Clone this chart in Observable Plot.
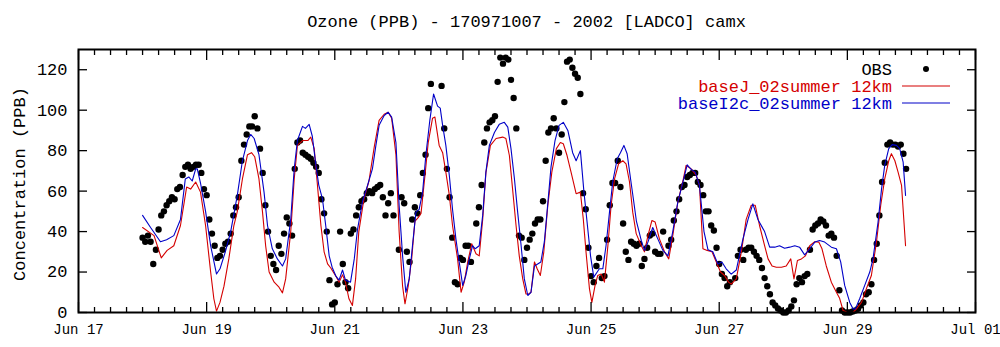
<!DOCTYPE html>
<html><head><meta charset="utf-8">
<script src="https://cdn.jsdelivr.net/npm/d3@7"></script>
<script src="https://cdn.jsdelivr.net/npm/@observablehq/plot@0.6"></script>
<style>
html,body{margin:0;padding:0;background:#fff;}
#wrap{position:relative;width:1000px;height:347px;overflow:hidden;font-family:"Liberation Mono","Courier New",monospace;}
#title{position:absolute;left:78px;top:13px;width:897px;text-align:center;font-size:17px;line-height:20px;color:#000;white-space:pre;}
#chart{position:absolute;left:0;top:40px;}
</style></head><body>
<div id="wrap"><div id="title">Ozone (PPB) - 170971007 - 2002 [LADCO] camx</div><div id="chart"></div></div>
<script>
// ---- data (hourly, first value = Jun 18 2002 00:00) ----
const seriesNames = ["OBS", "baseJ_02summer 12km", "baseI2c_02summer 12km"];
const seriesColors = ["#000000", "#d40000", "#0000c8"];
const obsValues = [
37,35,38,35,24,31,41,48,50,53,55,57,56,61,62,68,72,73,71,72,73,73,69,61,
58,46,39,33,27,28,31,34,35,39,48,52,57,75,83,88,92,92,97,91,81,69,53,40,
28,24,21,33,29,39,47,44,38,71,84,85,79,78,77,76,74,72,69,56,49,40,16,4,
5,14,40,24,15,12,39,41,48,52,55,56,59,60,59,61,62,63,57,48,54,59,48,null,
31,57,54,30,25,46,52,49,58,69,78,101,113,null,null,null,112,91,71,57,37,15,14,27,
26,33,33,25,null,44,52,63,84,91,94,95,97,114,126,123,126,125,115,106,91,38,37,26,
32,36,39,44,46,46,55,75,89,91,96,91,79,88,104,124,125,121,118,116,108,59,51,32,
18,15,23,27,17,18,36,53,64,64,75,62,44,30,26,35,34,33,34,23,26.5,32,38,39,
30,29,29,40,null,33,36,45.5,50,56,62,63,67,68,69,69,64.5,63,58,50,50,43,40.5,32,
24,19,17,13,15,null,17,28,31,26,31,32,32,30,28,26,22,17,13,9,5,3.5,2,1,
0,0,1,3,6,14,17,15,18,19,31,41,43,44,46,45,43,38,39,37,28,11,1,0,
0,0,0.5,1,1.8,3.5,5,9,10,14,26,34,48,64.5,74,83,84,83,83,82,83,78.5,71
];
const baseJHours = [0,4.3,7,9.2,11.7,14.2,16.5,18,19.9,21.7,23.6,25.5,26.7,27.7,29,30.5,32.3,34.2,35.5,37.4,39.3,40.8,42,43.6,44.9,46.1,47.4,49.3,51.1,52.4,53.6,55.5,56.8,58,59.9,61.9,63,64.3,65.5,66.8,68,69.3,70.5,72.4,73.6,74.9,76,77.3,78.6,79.8,81,82.9,84.8,86.8,88.6,90.5,92,93.3,94.9,96.1,97.4,98.3,99.5,100.8,102,103.3,104.3,105.8,107,108.6,109.5,111.1,112.4,113.6,114.9,116.1,118,119.3,120.5,121.8,123.3,124.9,126.1,127.4,128.6,130.3,132.4,134.9,136.1,137.4,138.6,139.9,141.1,142.4,143.6,144.5,145.5,146.8,147.8,149,150.3,151.8,153.3,155,156.5,157.6,159,160.5,162.4,164,165.1,166.1,167.4,168.3,169.5,170.5,171.8,173,174.3,175.5,176.8,178.3,179.9,181.1,182.4,183.6,184.9,186.8,188,189.3,190.8,192,193.6,195.5,197.1,198.6,200.5,202.4,203.6,205.5,207.4,208.6,209.9,211.5,213.3,214.9,216.5,218,219.5,220.5,222.4,224.3,226.1,228,229.5,231.1,233,234.3,235.8,237.4,239.3,241.1,242.8,244,245.3,246.8,248.3,249.9,251.8,253.3,254.5,256.1,258,259.9,261.1,262.4,264.3,266.1,267.4,269.3,271.1,273,274.9,276.5,278,279.5,280.5,281.8,283,284.3,285.8];
const baseJValues = [42,38,27,30.7,33,43,62,61,64.5,59.5,43,20,6.8,0.7,5,13,26.5,43,50,66,78,79,77,66,50,33,20,15,12.5,9.7,16.6,40,66,82.6,85,85,86.7,81,63,43,30,24,22,18,15,18.6,15,6.8,3.5,16.6,40,56,65,82,95,98,99,96,78,40,13,4.3,13,26.5,45,47,49,68,84,96,96.6,82.6,79,69.4,58,43,26.5,10,15,25,34,29,28,46,69,82.6,86,86.7,86,77.6,61,43,28,16.6,9.2,9,10,25,21.6,18.3,30,53,69.4,81,84,83.4,77.6,69.4,58.7,59.5,46,30,11.7,5,13.4,18.3,19,15,33,53,66,73.5,75,73.5,64.5,49.6,39,33,30,38,45.5,44.7,36.4,30,26.5,38,54.6,65,72.7,71,67.8,62.8,31.5,30.7,30,25,20,18.3,15,14,16.6,30,46,53,53,43,33,26.5,23,22.4,22.4,23,26.5,16.6,25.7,26.5,28,33,35,34.8,31.5,23,15,10,7,1,0,0,1.8,5,11.7,18.3,34.8,53,66,75,78.5,75,69.4,62.8,33];
const baseI2cHours = [0,3,6.7,9,11.7,14.2,16,17.3,18.6,19.9,20.5,21.7,23.6,25.5,27.7,29,31,33,35.5,37.4,39.3,40.5,41.8,43.6,45.5,46.8,48.6,50.5,52.4,53.6,55.5,56.8,58,59.9,61,62.4,63.6,64.9,66,67.4,68.6,69.9,71,72.4,73.6,74.9,76,77.9,79.3,80.5,82.4,84.3,86.1,87.4,88.6,90.5,92,93.3,94.9,96.1,97.4,98.6,99.9,101.1,102.4,103.6,104.9,106.1,107.6,109,110.5,111.5,112.4,113.6,114.9,116.1,117.4,118.6,119.9,121.1,122.4,123.6,124.6,126.1,127.4,128.6,129.9,131.8,133.6,135.5,136.8,138,139.3,140.5,141.8,143,144.3,145.5,146.8,148,149.2,150.5,151.8,153,154.5,156,157.6,159.3,161.1,162.4,164,165.3,166.5,167.8,169,170.3,171.1,172.4,173.6,174.9,176.1,177.8,179,180.3,181.5,182.8,184,185,186.8,188,189.3,191.1,193,194.9,196.8,198.6,200.5,202.4,204,205.5,207,208.6,210.3,211.8,213.6,215.5,217,218.6,220.5,222.4,224.9,226.8,228.6,230.5,233,234.9,236.8,238.6,240.5,242.4,244.3,246.1,248,249.9,251.8,253.6,255.5,258,259.9,261.5,263,264.9,266.1,267,268.6,270.5,272.4,273.6,275.5,276.8,278,279.5,280.8,282.4,283.6,284.9,285.8];
const baseI2cValues = [48,42,35,36,38,46,66,67,65,71,71,64,50,33,19,21.6,30,40,58,75,85,88,86,78,59.5,43,31.5,26.5,23,26.5,46,71,85,92,91,93,87,73,63,56,43,28,22.4,18,16,21,16,15,26.5,41,55,63,71,82.6,92.5,97.4,99,96.6,84,53,28,10,16.6,33,49.6,51,59.5,77.6,95,108,102,101,92.5,82.6,67.8,51,36,25,13.4,18.3,26.5,33,31.5,33,48,69.4,82.6,89,93,94,91.6,81,66,49.6,33,16.6,8.4,10,23,24,25,35,54,72,85,92.5,94,90,79,75,80,60,44.7,28,17.5,20,21.6,21.6,33,49.6,64.5,76,79,82.6,78.5,66,54.6,45,35.6,30.7,34.8,42,36.4,30.7,28,40,54.6,64.5,73,70.7,69.4,62.8,40,31,30,24,25,21.6,19,21,36.4,46,53.7,46,40,32.3,32.3,33,31.8,32.3,33,32.3,28.5,31.5,34.8,35.6,34.8,32.3,31.5,25,13.4,5,1.8,1.8,6.8,13.4,20,26.5,44.7,61,72.7,81,83,82.6,81,74.3,57.9];
const yTicks = [0,20,40,60,80,100,120];
const xMajorTicks = ["2002-06-17","2002-06-19","2002-06-21","2002-06-23","2002-06-25","2002-06-27","2002-06-29","2002-07-01"];

// ---- build tables ----
const start = Date.UTC(2002, 5, 18, 0);
const toDate = h => new Date(start + h * 3600000);
const obsData = obsValues.map((v, i) => ({t: toDate(i), v})).filter(d => d.v !== null);
const baseJ = baseJHours.map((h, i) => ({t: toDate(h), v: baseJValues[i]}));
const baseI2c = baseI2cHours.map((h, i) => ({t: toDate(h), v: baseI2cValues[i]}));
const majors = xMajorTicks.map(s => new Date(s + "T00:00Z"));
const majorSet = new Set(majors.map(d => +d));
const minors = d3.utcHour.every(6).range(majors[0], majors[majors.length - 1]).filter(d => !majorSet.has(+d));
const blank = () => "";

const chart = Plot.plot({
  width: 1000, height: 307,
  marginLeft: 78, marginRight: 25, marginTop: 9, marginBottom: 35,
  style: {fontFamily: '"Liberation Mono","Courier New",monospace', fontSize: "17px", color: "#000", background: "#fff"},
  x: {type: "utc", domain: [majors[0], majors[majors.length - 1]], label: null},
  y: {domain: [0, 130], label: null},
  marks: [
    Plot.dot(obsData, {x: "t", y: "v", r: 3.2, fill: seriesColors[0], stroke: "none"}),
    Plot.line(baseJ, {x: "t", y: "v", stroke: seriesColors[1], strokeWidth: 1.1}),
    Plot.line(baseI2c, {x: "t", y: "v", stroke: seriesColors[2], strokeWidth: 1.1}),
    Plot.axisX({anchor: "bottom", ticks: majors, tickSize: -10, tickFormat: blank, strokeWidth: 1.3}),
    Plot.axisX({anchor: "top", ticks: majors, tickSize: -10, tickFormat: blank, strokeWidth: 1.3}),
    Plot.axisX({anchor: "bottom", ticks: minors, tickSize: -5, tickFormat: blank, strokeWidth: 1.3}),
    Plot.axisX({anchor: "top", ticks: minors, tickSize: -5, tickFormat: blank, strokeWidth: 1.3}),
    Plot.axisX({anchor: "bottom", ticks: majors, tickSize: 0, tickPadding: 12, fontSize: 14, tickFormat: d3.utcFormat("%b %d")}),
    Plot.axisY({anchor: "left", ticks: yTicks, tickSize: -9, tickFormat: blank, strokeWidth: 1.3}),
    Plot.axisY({anchor: "right", ticks: yTicks, tickSize: -9, tickFormat: blank, strokeWidth: 1.3}),
    Plot.axisY({anchor: "left", ticks: yTicks, tickSize: 0, tickPadding: 11, tickFormat: d3.format("d")}),
    Plot.frame({stroke: "#000", strokeWidth: 2})
  ]
});
document.getElementById("chart").appendChild(chart);

// ---- y label and legend (text, not data) ----
const svg = d3.select(chart);
svg.append("text")
  .attr("transform", "translate(25,144) rotate(-90)")
  .attr("text-anchor", "middle")
  .attr("fill", "#000")
  .style("font-size", "17px")
  .text("Concentration (PPB)");
const legendY = [29, 46, 63];
const lg = svg.append("g").style("font-size", "17px");
seriesNames.forEach((name, i) => {
  lg.append("text").attr("x", 892).attr("y", legendY[i]).attr("dy", "0.35em")
    .attr("text-anchor", "end").attr("fill", seriesColors[i]).text(name);
  if (i === 0) {
    lg.append("circle").attr("cx", 926).attr("cy", legendY[i]).attr("r", 3).attr("fill", "#000");
  } else {
    lg.append("line").attr("x1", 902).attr("x2", 950).attr("y1", legendY[i]).attr("y2", legendY[i])
      .attr("stroke", seriesColors[i]).attr("stroke-width", 1.1);
  }
});
</script>
</body></html>
